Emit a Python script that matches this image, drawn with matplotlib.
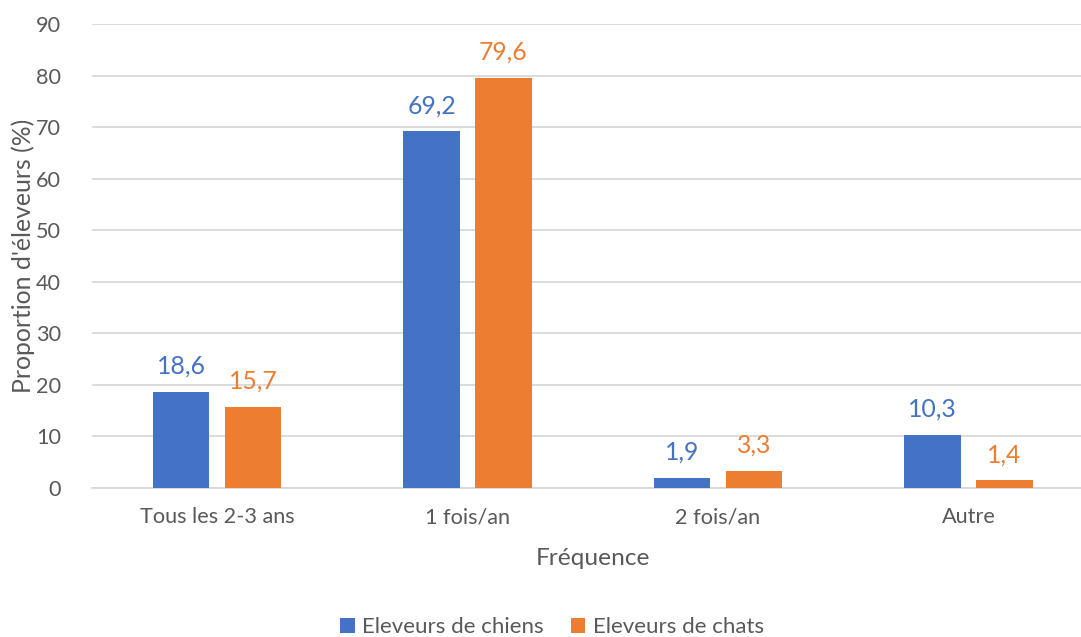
import matplotlib.pyplot as plt
import numpy as np

plt.rcParams['font.family'] = ['Lato', 'DejaVu Sans']

categories = ['Tous les 2-3 ans', '1 fois/an', '2 fois/an', 'Autre']
chiens = [18.6, 69.2, 1.9, 10.3]
chats = [15.7, 79.6, 3.3, 1.4]
series_names = ['Eleveurs de chiens', 'Eleveurs de chats']

blue = '#4472C4'
orange = '#ED7D31'
grey = '#595959'

fig = plt.figure(figsize=(10.81, 6.37), dpi=100)
ax = fig.add_axes([91.75 / 1081, 1 - 487.7 / 637, 1002 / 1081, (487.7 - 24) / 637])

x = np.arange(len(categories))
w = 0.2236
off = 0.1437
b1 = ax.bar(x - off, chiens, w, color=blue, label=series_names[0], zorder=3)
b2 = ax.bar(x + off, chats, w, color=orange, label=series_names[1], zorder=3)

for bars, vals, c in [(b1, chiens, blue), (b2, chats, orange)]:
    for rect, v in zip(bars, vals):
        ax.annotate(f'{v:.1f}'.replace('.', ','),
                    (rect.get_x() + rect.get_width() / 2, v),
                    xytext=(0, 13), textcoords='offset points',
                    ha='center', va='baseline', color=c, fontsize=17.8)

ax.set_xlim(-0.5, 3.5)
ax.set_ylim(0, 90)
ax.set_yticks(range(0, 91, 10))
ax.set_xticks(x)
ax.set_xticklabels(categories)
ax.yaxis.grid(True, color='#D9D9D9', linewidth=1.3, zorder=0)
ax.set_axisbelow(True)
for s in ['top', 'right', 'left']:
    ax.spines[s].set_visible(False)
ax.spines['bottom'].set_color('#D9D9D9')
ax.spines['bottom'].set_linewidth(1.3)
ax.tick_params(axis='both', length=0, labelsize=15.6, labelcolor=grey)
ax.tick_params(axis='x', pad=14)
ax.tick_params(axis='y', pad=22)

ax.set_xlabel('Fréquence', fontsize=17.6, color=grey, labelpad=15)
ax.set_ylabel("Proportion d'éleveurs (%)", fontsize=17.8, color=grey, labelpad=1)

fig.legend(handles=[b1, b2], loc='center', bbox_to_anchor=(552 / 1081, 1 - 627 / 637),
           ncol=2, frameon=False, fontsize=16, labelcolor=grey,
           handlelength=0.65, handleheight=0.65, handletextpad=0.35, columnspacing=1.2)

fig.savefig('out.png', dpi=100)
